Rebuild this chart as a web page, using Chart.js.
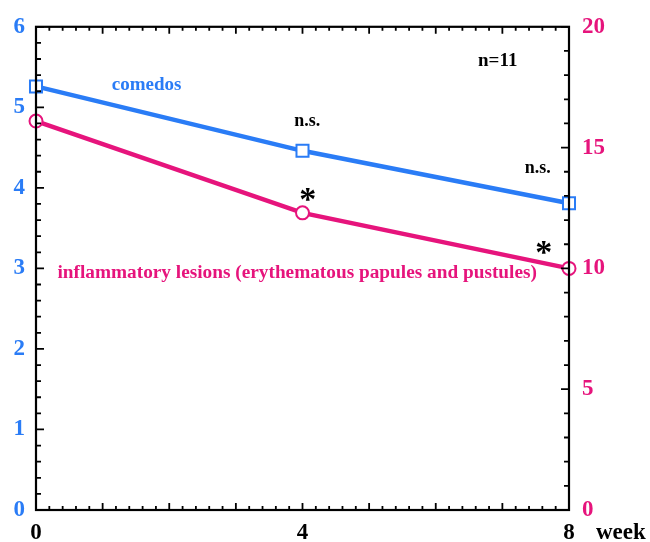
<!DOCTYPE html>
<html>
<head>
<meta charset="utf-8">
<script src="https://cdn.jsdelivr.net/npm/chart.js@4"></script>
<style>
  html, body { margin: 0; padding: 0; background: #fff; }
  #wrap { width: 650px; height: 542px; }
</style>
</head>
<body>
<div id="wrap"><canvas id="c" width="650" height="542"></canvas></div>
<script>
const BLUE  = '#2a7cf6';
const PINK  = '#e6147c';
const FONT  = "'Liberation Serif', 'DejaVu Serif', serif";

// weeks
const weeks        = [0, 4, 8];
// comedos count (left axis)
const comedos      = [5.26, 4.46, 3.81];
// inflammatory lesions count (right axis)
const inflammatory = [16.1, 12.3, 10.0];

// text notes: [text, week, left-axis value, colour, size]
const notes = [
  ['comedos', 1.66, 5.28, BLUE, 19],
  ['n=11', 6.93, 5.57, '#000', 19],
  ['n.s.', 4.07, 4.82, '#000', 18],
  ['n.s.', 7.53, 4.24, '#000', 18],
  ['*', 4.08, 3.84, '#000', 34],
  ['*', 7.62, 3.18, '#000', 34],
  ['inflammatory lesions (erythematous papules and pustules)', 3.92, 2.94, PINK, 19.3],
];

const pts = (xs, ys) => xs.map((x, i) => ({ x, y: ys[i] }));

// frame, inward ticks (major + minor), notes and the "week" label
const framePlugin = {
  id: 'frame',
  afterDraw(chart) {
    const { ctx, chartArea: a, scales } = chart;
    const { x, y, y2 } = scales;
    ctx.save();
    ctx.strokeStyle = '#000';
    ctx.lineWidth = 2.2;
    ctx.strokeRect(a.left, a.top, a.right - a.left, a.bottom - a.top);

    ctx.lineWidth = 1.8;
    ctx.beginPath();
    // x ticks (bottom and top): minor every 0.2 week, major every week
    for (let i = 0; i <= 40; i++) {
      const px = x.getPixelForValue(i * 0.2);
      const len = i % 5 === 0 ? 7 : 4;
      ctx.moveTo(px, a.bottom); ctx.lineTo(px, a.bottom - len);
      ctx.moveTo(px, a.top);    ctx.lineTo(px, a.top + len);
    }
    // left ticks: minor 0.2, major 1
    for (let i = 0; i <= 30; i++) {
      const py = y.getPixelForValue(i * 0.2);
      const len = i % 5 === 0 ? 8 : 5;
      ctx.moveTo(a.left, py); ctx.lineTo(a.left + len, py);
    }
    // right ticks: minor 1, major 5
    for (let i = 0; i <= 20; i++) {
      const py = y2.getPixelForValue(i);
      const len = i % 5 === 0 ? 8 : 5;
      ctx.moveTo(a.right, py); ctx.lineTo(a.right - len, py);
    }
    ctx.stroke();

    ctx.textAlign = 'center';
    ctx.textBaseline = 'middle';
    for (const [t, wx, vy, col, size] of notes) {
      ctx.fillStyle = col;
      ctx.font = `bold ${size}px ${FONT}`;
      ctx.fillText(t, x.getPixelForValue(wx), y.getPixelForValue(vy));
    }

    ctx.fillStyle = '#000';
    ctx.font = `bold 23px ${FONT}`;
    ctx.textAlign = 'left';
    ctx.fillText('week', 596, 533);
    ctx.restore();
  },
};

new Chart(document.getElementById('c'), {
  type: 'line',
  data: {
    datasets: [
      {
        label: 'comedos',
        data: pts(weeks, comedos),
        yAxisID: 'y',
        borderColor: BLUE,
        borderWidth: 4.5,
        pointStyle: 'rect',
        pointRadius: 8.5,
        pointBorderWidth: 2,
        pointBorderColor: BLUE,
        pointBackgroundColor: '#fff',
        clip: false,
        tension: 0,
      },
      {
        label: 'inflammatory lesions',
        data: pts(weeks, inflammatory),
        yAxisID: 'y2',
        borderColor: PINK,
        borderWidth: 4.5,
        pointStyle: 'circle',
        pointRadius: 6.5,
        pointBorderWidth: 2,
        pointBorderColor: PINK,
        pointBackgroundColor: '#fff',
        clip: false,
        tension: 0,
      },
    ],
  },
  options: {
    responsive: false,
    animation: false,
    layout: { padding: { top: 22, left: 0, right: 0, bottom: 0 } },
    plugins: {
      legend: { display: false },
      tooltip: { enabled: false },
    },
    scales: {
      x: {
        type: 'linear',
        min: 0,
        max: 8,
        afterFit: (s) => { s.height = 32; },
        ticks: {
          stepSize: 4,
          color: '#000',
          padding: 9,
          maxRotation: 0,
          font: { family: FONT, size: 23, weight: 'bold' },
        },
        grid: { display: false, drawTicks: false },
        border: { display: false },
      },
      y: {
        position: 'left',
        min: 0,
        max: 6,
        afterFit: (s) => { s.width = 36; },
        ticks: {
          stepSize: 1,
          color: BLUE,
          padding: 11,
          font: { family: FONT, size: 23, weight: 'bold' },
        },
        grid: { display: false, drawTicks: false },
        border: { display: false },
      },
      y2: {
        position: 'right',
        min: 0,
        max: 20,
        afterFit: (s) => { s.width = 81; },
        ticks: {
          stepSize: 5,
          color: PINK,
          padding: 13,
          font: { family: FONT, size: 23, weight: 'bold' },
        },
        grid: { display: false, drawTicks: false },
        border: { display: false },
      },
    },
  },
  plugins: [framePlugin],
});
</script>
</body>
</html>
